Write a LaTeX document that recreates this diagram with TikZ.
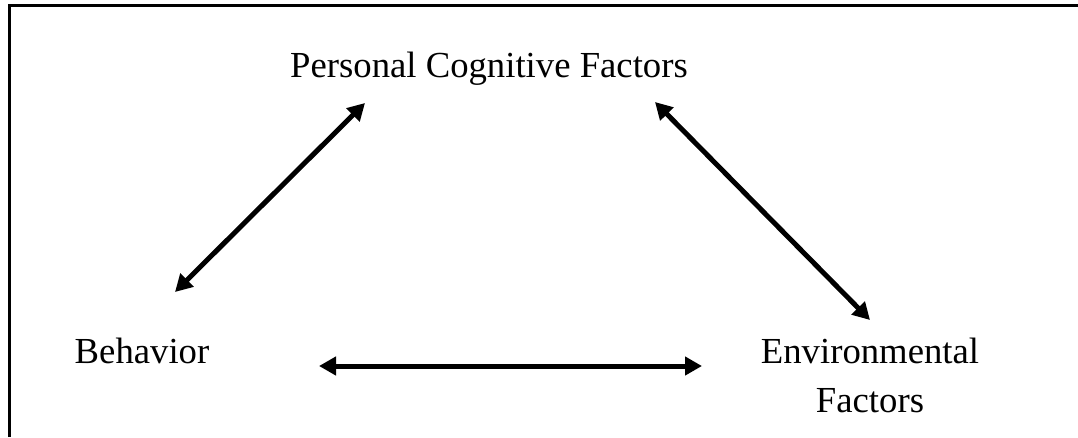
\documentclass[tikz,border=0pt]{standalone}
\usepackage{fontspec}
\setmainfont{Liberation Serif}
\usetikzlibrary{arrows.meta,calc}

\tikzset{
  factor/.style={inner sep=0pt, anchor=base, font=\fontsize{36.7}{49}\selectfont},
  link/.style={line width=5pt, {Triangle[length=17pt,width=18pt]}-{Triangle[length=17pt,width=18pt]}}
}

\begin{document}
\begin{tikzpicture}[x=1pt,y=-1pt]
	% Page and frame
	\useasboundingbox (0,0) rectangle (1078,437);
	\draw[line width=2.5pt] (9.5,437) -- (9.5,5.5) -- (1078,5.5);
	
	% Factors
	\node[factor] (pcf) at (489,77) {Personal Cognitive Factors};
	\node[factor] (bev) at (142,363) {Behavior};
	\node[factor, align=center] (env) at (870,412) {Environmental\\Factors};
	
	% Two-way links
	\draw[link] ($(bev.base)+(33,-71)$) -- ($(pcf.base)+(-124,26)$);
	\draw[link] ($(pcf.base)+(166,25)$) -- ($(env.base)+(0,-92)$);
	\draw[link] ($(bev.base)+(177,3)$) -- ($(env.base)+(-168,-46)$);
\end{tikzpicture}
\end{document}
